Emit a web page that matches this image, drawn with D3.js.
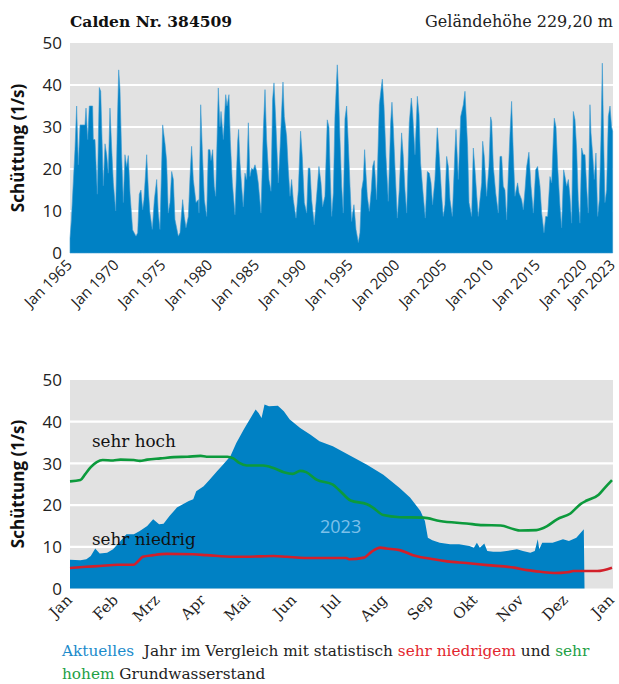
<!DOCTYPE html>
<html><head><meta charset="utf-8">
<script src="https://cdn.jsdelivr.net/npm/d3@7"></script>
<style>body{margin:0;background:#fff} svg{display:block}</style>
</head><body><svg id="c" width="619" height="684"></svg>
<script>
// ---------- DATA ----------
const titleLeft = "Calden Nr. 384509";
const titleRight = "Geländehöhe 229,20 m";
const yLabel = "Schüttung (1/s)";
const yTicks = [0, 10, 20, 30, 40, 50];
const topTickYears = [1965,1970,1975,1980,1985,1990,1995,2000,2005,2010,2015,2020,2023];
const topTickLabels = ["Jan 1965","Jan 1970","Jan 1975","Jan 1980","Jan 1985","Jan 1990","Jan 1995","Jan 2000","Jan 2005","Jan 2010","Jan 2015","Jan 2020","Jan 2023"];

const topYears = [1965.00,1965.15,1965.53,1965.71,1965.89,1966.07,1966.60,1966.71,1966.89,1967.06,1967.42,1967.49,1967.67,1967.92,1968.13,1968.28,1968.56,1968.74,1968.92,1969.09,1969.27,1969.45,1969.63,1969.88,1970.06,1970.20,1970.34,1970.52,1970.70,1970.87,1971.05,1971.23,1971.41,1971.69,1972.05,1972.23,1972.40,1972.58,1972.76,1972.90,1973.19,1973.37,1973.54,1973.79,1974.01,1974.26,1974.43,1974.61,1974.90,1975.15,1975.32,1975.50,1975.68,1975.86,1976.04,1976.21,1976.57,1976.75,1977.03,1977.21,1977.39,1977.64,1977.82,1977.99,1978.17,1978.46,1978.71,1978.78,1978.96,1979.13,1979.35,1979.60,1979.77,1979.95,1980.06,1980.24,1980.41,1980.56,1980.84,1981.02,1981.13,1981.38,1981.63,1981.77,1981.98,1982.12,1982.34,1982.62,1982.91,1983.01,1983.16,1983.33,1983.51,1983.69,1983.87,1984.05,1984.22,1984.40,1984.58,1984.76,1984.94,1985.11,1985.40,1985.65,1985.83,1986.00,1986.25,1986.47,1986.64,1986.79,1986.96,1987.25,1987.43,1987.61,1987.75,1987.89,1988.14,1988.32,1988.50,1988.67,1988.85,1989.14,1989.39,1989.63,1989.81,1990.03,1990.28,1990.45,1990.63,1990.81,1991.09,1991.34,1991.59,1991.81,1991.98,1992.23,1992.48,1992.66,1992.80,1992.95,1993.13,1993.30,1993.55,1993.66,1993.84,1994.02,1994.19,1994.37,1994.55,1994.73,1994.91,1995.08,1995.19,1995.33,1995.55,1995.80,1995.97,1996.15,1996.33,1996.47,1996.61,1996.76,1996.97,1997.18,1997.33,1997.50,1997.75,1998.04,1998.22,1998.36,1998.54,1998.75,1999.00,1999.25,1999.39,1999.53,1999.71,1999.96,2000.17,2000.42,2000.60,2000.78,2000.96,2001.24,2001.46,2001.60,2001.85,2002.10,2002.28,2002.45,2002.74,2002.95,2003.17,2003.38,2003.56,2003.73,2003.98,2004.23,2004.45,2004.70,2004.87,2005.05,2005.23,2005.41,2005.59,2005.84,2006.12,2006.23,2006.48,2006.73,2007.01,2007.19,2007.47,2007.62,2007.90,2008.08,2008.26,2008.44,2008.61,2008.97,2009.08,2009.25,2009.50,2009.75,2009.93,2010.04,2010.22,2010.47,2010.75,2010.93,2011.11,2011.28,2011.46,2011.64,2011.82,2012.00,2012.17,2012.35,2012.53,2012.81,2012.96,2013.24,2013.42,2013.60,2013.78,2014.02,2014.24,2014.49,2014.74,2014.95,2015.20,2015.38,2015.63,2015.81,2016.02,2016.27,2016.45,2016.62,2016.73,2016.91,2017.09,2017.34,2017.51,2017.73,2017.87,2018.05,2018.23,2018.40,2018.58,2018.76,2018.94,2019.12,2019.29,2019.47,2019.65,2019.83,2020.01,2020.18,2020.36,2020.54,2020.65,2020.83,2021.00,2021.18,2021.36,2021.54,2021.71,2021.86,2022.00,2022.14,2022.32,2022.50,2022.68,2022.85,2022.96];
const topValues = [3.5,8,24.6,35,21,30.5,30.5,34.5,27,35,35,27,27,14,39.4,38.5,16,26,23.4,19,34.5,25,16.7,10,31,43.6,39,23,12,23.4,20.6,23.2,14.3,5.5,4,4.8,14,15,10.3,12.7,23.4,15,9.5,5.6,12.7,17.5,9.5,5.6,30.5,26,22,9.5,12,19.4,17.5,8,4,4.8,12.7,8.7,6,8.7,18.2,25.4,17.5,12,12.7,9.5,35.3,24.6,12.7,8.7,24.6,24.6,22,24.6,15.9,13.5,39.3,30,33.7,27,37.7,35,37.7,27,16.7,9.1,26.6,29.4,21.4,15.9,11,19,17.5,31,18.2,20.2,19.8,21,19.4,16.7,9.5,29.4,38.9,27,17.5,14.7,36.5,40.5,32.5,16.7,24.6,34,40.7,32.5,27.8,19.8,13.5,17.5,12.7,8.3,15,29,23,12,9.5,20.2,20.2,12.7,6.7,13.5,20.6,16.7,11,13.5,31.7,30,18,8.7,14.3,32.5,44.8,39.7,27,15.9,9.5,32,35,26,15.9,7.5,9.5,11.5,5.6,2.5,4.8,15,17.5,24.6,19,13.5,9.9,15,20.6,22,12.7,35.3,38.9,41.4,35,23,12.3,31,35.9,30,20.6,8.3,15,28.6,23,15,9.5,31,36.9,33.3,23.4,37.3,33,21.4,13.5,8.3,19.4,19,16.7,11.5,17.5,29.8,23,13.5,8.7,11.5,23,20.6,12.7,8.7,24.6,29.4,17.5,32.5,35.3,38.5,25.4,12,8.7,25,19.8,13.9,8.7,16.7,26.6,23,13.5,20.6,32.4,31.3,20.6,14.3,9.5,23,23,15.9,15,7.9,19,28.6,36.1,23.8,13.5,16.7,14.3,12.7,10.3,15,20.6,24,15.9,9.5,19.8,20.6,15.9,9.5,4.8,8.7,8.7,18.2,16.7,27,32.1,30,20.6,11,6,19.8,18.2,15.9,17.5,13.5,7.1,33.7,31.7,24.6,12.7,7.1,25,23.4,23.4,15.9,9.5,35.3,28.6,23.4,17.5,23.8,8.7,12.7,27,45.2,27,12,15,32.5,35,30,29];

const monthLabels = ["Jan","Feb","Mrz","Apr","Mai","Jun","Jul","Aug","Sep","Okt","Nov","Dez","Jan"];
const currentYearLabel = "2023";
// day of year (0 = 1 Jan 2023) and values
const curDays = [0,7,11,14,17,20,25,29,34,38,43,47,52,56,60,63,67,72,76,80,83,85,90,94,99,103,108,112,117,121,125,127,129,131,134,140,144,148,155,162,168,177,200,211,222,229,236,239,241,244,249,256,262,269,272,274,276,279,281,285,290,294,301,305,310,313,315,316,318,325,332,336,341,346,346.5];
const curValues = [6.9,6.8,7,7.8,9.6,8.4,8.6,9.4,11.4,13,13,13.8,15,16.6,15.4,15.5,17.4,19.4,20.2,21,21.4,23.3,24.5,26.1,28.1,29.7,31.7,34.9,38.1,40.5,42.9,42.1,40.9,44.1,43.7,43.8,42.5,40.5,38.5,36.9,35.3,34.1,29.7,27.3,24.1,21.8,18.6,16.2,12.2,11.6,11,10.6,10.6,10.2,9.8,11,9.8,10.8,9,8.8,8.8,9,9.4,9,8.6,9,11.8,9.4,11,11,11.8,11.4,12.2,14.2,0];
const highDays = [0,7,10,14,18,22,29,34,43,47,52,61,70,79,88,92,106,110,114,119,130,137,144,150,155,159,166,177,181,189,200,204,211,222,238,249,267,278,290,299,303,314,321,328,337,344,348,356,360,365];
const highValues = [25.7,26,27.3,29.1,30.3,30.8,30.7,30.9,30.8,30.6,30.9,31.2,31.5,31.6,31.8,31.6,31.6,31.2,30.1,29.5,29.5,28.9,27.9,27.5,28.2,27.9,26.1,24.9,23.7,21.1,20.2,19.4,17.6,17.1,17,16.2,15.6,15.2,15.1,14.2,13.9,14,14.9,16.6,18,20.3,21.1,22.5,24.1,26];
const lowDays = [0,11,20,32,43,46,49,56,65,83,92,110,128,137,146,164,166,186,188,198,203,209,213,222,231,245,254,267,281,299,308,317,326,335,339,355,365];
const lowValues = [4.9,5.2,5.4,5.7,5.7,6.6,7.6,8,8.3,8.2,8,7.6,7.7,7.8,7.6,7.3,7.3,7.3,7,7.4,8.8,9.8,9.6,9.2,8,7,6.5,6.1,5.6,5,4.4,4,3.7,3.9,4.2,4.2,5];
const highLabel = "sehr hoch";
const lowLabel = "sehr niedrig";

// ---------- STYLE ----------
const BLUE = "#0081C4", GRAY = "#E2E2E2", GREEN = "#0C9A3C", RED = "#D2202A";
const SERIF = "'DejaVu Serif', 'Liberation Serif', serif";
const SANS = "'Open Sans', 'DejaVu Sans', sans-serif";

const svg = d3.select("#c");
const L = 70, R = 613;

function yAxisBlock(y, cy) {
  svg.append("rect").attr("x", L).attr("y", y(50)).attr("width", R - L).attr("height", y(0) - y(50)).attr("fill", GRAY);
  svg.append("g").selectAll("line").data(yTicks.filter(d => d > 0 && d < 50)).join("line")
    .attr("x1", L).attr("x2", R).attr("y1", d => y(d)).attr("y2", d => y(d))
    .attr("stroke", "#fff").attr("stroke-width", 2.2);
  svg.append("g").selectAll("text").data(yTicks).join("text")
    .attr("x", 62).attr("y", d => y(d)).attr("dy", "0.36em").attr("text-anchor", "end")
    .attr("font-family", SANS).attr("font-size", 17).attr("fill", "#222").text(d => d);
  svg.append("text").attr("transform", `translate(24,${cy}) rotate(-90)`)
    .attr("text-anchor", "middle").attr("font-family", SANS).attr("font-weight", 700)
    .attr("font-size", 17).attr("fill", "#111").text(yLabel);
}

// ---------- TOP CHART ----------
const xTop = d3.scaleLinear().domain([1965, 2023]).range([L, R]);
const yTop = d3.scaleLinear().domain([0, 50]).range([253, 43]);
yAxisBlock(yTop, 148);
const topData = topYears.map((t, i) => ({ t, v: topValues[i] }));
svg.append("path").datum(topData)
  .attr("d", d3.area().x(d => xTop(d.t)).y0(yTop(0)).y1(d => yTop(d.v)))
  .attr("fill", BLUE).attr("stroke", "#3a9bd2").attr("stroke-width", 0.6);
svg.append("g").selectAll("text").data(topTickYears).join("text")
  .attr("transform", d => `translate(${xTop(d) + 3},${266}) rotate(-45)`)
  .attr("text-anchor", "end").attr("font-family", SANS).attr("font-size", 15).attr("fill", "#222")
  .text((d, i) => topTickLabels[i]);

svg.append("text").attr("x", L).attr("y", 27).attr("font-family", SERIF).attr("font-weight", 700)
  .attr("font-size", 15.5).attr("fill", "#111").text(titleLeft);
svg.append("text").attr("x", R).attr("y", 27).attr("text-anchor", "end").attr("font-family", SERIF)
  .attr("font-size", 16).attr("fill", "#222").text(titleRight);

// ---------- BOTTOM CHART ----------
const t0 = new Date(Date.UTC(2023, 0, 1)), t1 = new Date(Date.UTC(2024, 0, 1));
const xBot = d3.scaleUtc().domain([t0, t1]).range([L, 612]);
const yBot = d3.scaleLinear().domain([0, 50]).range([588.5, 380]);
yAxisBlock(yBot, 484);
const toDate = d => d3.utcHour.offset(t0, Math.round(d * 24));
const curData = curDays.map((d, i) => ({ t: toDate(d), v: curValues[i] }));
svg.append("path").datum(curData)
  .attr("d", d3.area().x(d => xBot(d.t)).y0(yBot(0)).y1(d => yBot(d.v)))
  .attr("fill", BLUE);
svg.append("text").attr("x", 320).attr("y", 533).attr("font-family", SANS).attr("font-size", 18)
  .attr("fill", "#7CC0EA").text(currentYearLabel);
const line = d3.line().x(d => xBot(d.t)).y(d => yBot(d.v)).curve(d3.curveMonotoneX);
svg.append("path").datum(highDays.map((d, i) => ({ t: toDate(d), v: highValues[i] })))
  .attr("d", line).attr("fill", "none").attr("stroke", GREEN).attr("stroke-width", 2.6);
svg.append("path").datum(lowDays.map((d, i) => ({ t: toDate(d), v: lowValues[i] })))
  .attr("d", line).attr("fill", "none").attr("stroke", RED).attr("stroke-width", 2.6);
svg.append("text").attr("x", 92).attr("y", 447).attr("font-family", SERIF).attr("font-size", 16.8)
  .attr("fill", "#111").text(highLabel);
svg.append("text").attr("x", 92).attr("y", 545).attr("font-family", SERIF).attr("font-size", 16.8)
  .attr("fill", "#111").text(lowLabel);
const monthTicks = d3.utcMonth.range(t0, d3.utcDay.offset(t1, 1));
svg.append("g").selectAll("text").data(monthTicks).join("text")
  .attr("transform", d => `translate(${xBot(d) + 3},${601}) rotate(-45)`)
  .attr("text-anchor", "end").attr("font-family", SERIF).attr("font-size", 15).attr("fill", "#222")
  .text((d, i) => monthLabels[i]);

// ---------- LEGEND TEXT ----------
const leg = svg.append("text").attr("x", 62).attr("y", 656).attr("font-family", SERIF).attr("font-size", 15.3).attr("fill", "#222");
leg.append("tspan").attr("fill", "#1B8BCB").text("Aktuelles");
leg.append("tspan").text("\u00a0 Jahr im Vergleich mit statistisch ");
leg.append("tspan").attr("fill", "#E3262E").text("sehr niedrigem");
leg.append("tspan").text(" und ");
leg.append("tspan").attr("fill", "#23A045").text("sehr");
const leg2 = svg.append("text").attr("x", 62).attr("y", 679).attr("font-family", SERIF).attr("font-size", 15.3).attr("fill", "#222");
leg2.append("tspan").attr("fill", "#23A045").text("hohem");
leg2.append("tspan").text(" Grundwasserstand");
</script></body></html>
